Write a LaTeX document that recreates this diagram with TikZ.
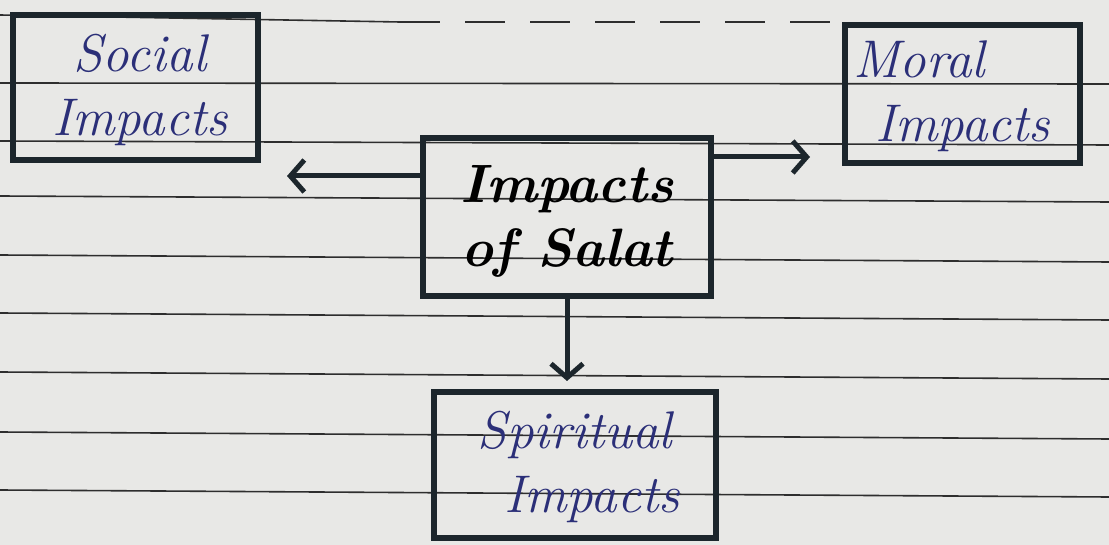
\documentclass[tikz,border=0pt]{standalone}
\usetikzlibrary{arrows.meta}
\definecolor{paper}{HTML}{E8E8E6}
\definecolor{rule}{HTML}{2E2E2E}
\definecolor{ink}{HTML}{1C262C}
\definecolor{blueink}{HTML}{2B2F78}
\tikzset{
  ruled/.style={draw=rule, line width=1.6pt},
  boxnode/.style={draw=ink, line width=6pt, rectangle, inner sep=0pt},
  outerlabel/.style={text=blueink, font=\fontsize{53}{64}\selectfont\itshape, align=center},
  centrelabel/.style={text=black, font=\fontsize{54}{64}\selectfont\bfseries\itshape, align=center},
  arr/.style={draw=ink, line width=5pt, -{Straight Barb[length=14pt,width=32pt,line width=5pt]}}
}
\begin{document}
\begin{tikzpicture}[x=1pt,y=-1pt]
\useasboundingbox (0,0) rectangle (1109,545);
\fill[paper] (0,0) rectangle (1109,545);
% ruled lines
\draw[ruled] (0,15) -- (400,22);
\draw[ruled, line width=2.2pt, dash pattern=on 40pt off 25pt] (400,22) -- (840,22);
\foreach \a/\b in {83/84,141/145,196/202,255/262,313/320,372/379,432/439,490/497}
  \draw[ruled] (0,\a) -- (1109,\b);
% boxes
\node[boxnode, minimum width=245pt, minimum height=145pt] (soc) at (135,88) {};
\node[boxnode, minimum width=235pt, minimum height=138pt] (mor) at (962,94) {};
\node[boxnode, minimum width=288pt, minimum height=158pt] (sal) at (567,217) {};
\node[boxnode, minimum width=282pt, minimum height=146pt] (spi) at (575,465) {};
% labels
\node[outerlabel] (socl) at ([xshift=5pt,yshift=-2pt]soc.center) {Social\\Impacts};
\node[outerlabel, align=left, anchor=west] (morl) at ([xshift=8pt,yshift=-2pt]mor.west) {Moral\\\hspace*{22pt}Impacts};
\node[centrelabel] (sall) at ([yshift=-4pt]sal.center) {Impacts\\of Salat};
\node[outerlabel] (spil) at ([yshift=-2pt]spi.center) {Spiritual\\\hspace*{34pt}Impacts};
% arrows
\coordinate (lend) at (287,176);
\coordinate (rend) at (810,157);
\draw[arr] (sal.west |- lend) -- (lend);
\draw[arr] (sal.east |- rend) -- (rend);
\draw[arr, shorten >=8pt] (sal.south) -- (sal.south |- spi.north);
\end{tikzpicture}
\end{document}
